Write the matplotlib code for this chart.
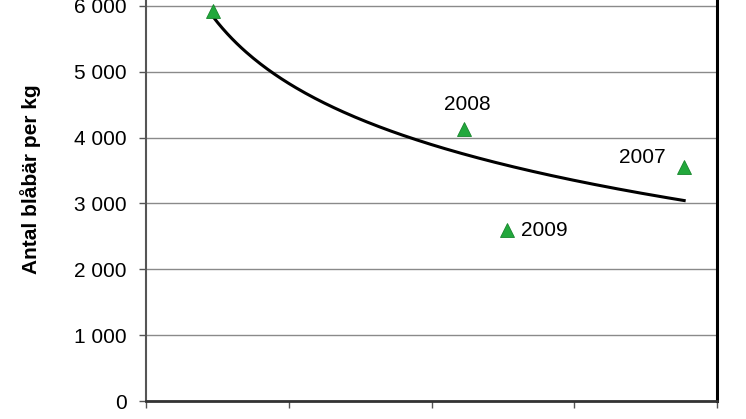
import numpy as np
import matplotlib.pyplot as plt

plt.rcParams['font.family'] = ['Liberation Sans', 'DejaVu Sans']

# data
x_vals = [0.47, 2.23, 2.53, 3.77]
y_vals = [5930, 4130, 2590, 3560]
year_labels = ['', '2008', '2009', '2007']
y_ticks = [0, 1000, 2000, 3000, 4000, 5000, 6000]
y_ticklabels = ['0', '1 000', '2 000', '3 000', '4 000', '5 000', '6 000']

# logarithmic trendline (like Excel)
k, m = np.polyfit(np.log(x_vals), y_vals, 1)
xs = np.linspace(min(x_vals), max(x_vals), 200)
ys = k * np.log(xs) + m

fig = plt.figure(figsize=(7.46, 4.19), dpi=100)
ax = fig.add_axes([146 / 746, 18 / 419, (717 - 146) / 746, 1 - 18 / 419])

ax.plot(xs, ys, color='black', lw=2.2, zorder=3)
ax.plot(x_vals, y_vals, linestyle='none', marker='^', markersize=10,
        color='#22a83c', markeredgecolor='#17852c', markeredgewidth=0.6, zorder=4)

offsets = {'2008': (2, 11, 'center', 'bottom'),
           '2009': (10, 0, 'left', 'center'),
           '2007': (-13, 6.5, 'right', 'center')}
for x, y, lab in zip(x_vals, y_vals, year_labels):
    if not lab:
        continue
    dx, dy, ha, va = offsets[lab]
    ax.annotate(lab, (x, y), xytext=(dx, dy), textcoords='offset points',
                ha=ha, va=va, fontsize=15, color='black')

ax.set_xlim(0, 4)
ax.set_ylim(0, 6000 + 6 / 395 * 6000)
ax.set_xticks([0, 1, 2, 3, 4])
ax.set_xticklabels([])
ax.set_yticks(y_ticks)
ax.set_yticklabels(y_ticklabels, fontsize=15)
ax.tick_params(axis='y', length=5, width=1, color='#555555', pad=9)
ax.tick_params(axis='x', length=5, width=1, color='#555555')

ax.grid(axis='y', color='#8a8a8a', lw=1)
ax.set_axisbelow(True)
ax.spines['top'].set_visible(False)
ax.spines['left'].set_color('#555555')
ax.spines['left'].set_linewidth(1.5)
ax.spines['bottom'].set_color('#333333')
ax.spines['bottom'].set_linewidth(2)
ax.spines['right'].set_color('black')
ax.spines['right'].set_linewidth(2.2)

ax.set_ylabel('Antal blåbär per kg', fontsize=15, fontweight='bold')
ax.yaxis.set_label_coords(-0.184, 0.554)

fig.savefig('out.png', dpi=100)
